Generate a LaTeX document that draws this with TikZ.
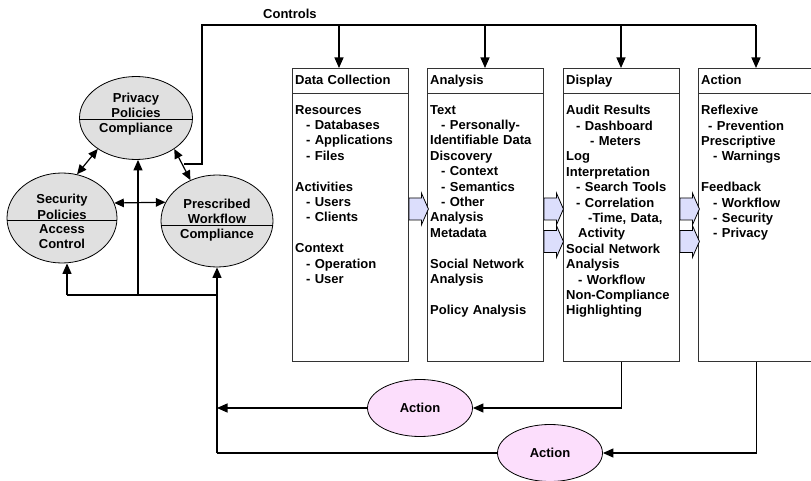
\documentclass[tikz,border=0pt]{standalone}
\usepackage{fontspec}
\setmainfont{Liberation Sans}
\usetikzlibrary{shapes.geometric,arrows.meta}
\definecolor{polgray}{RGB}{224,224,224}
\definecolor{actpink}{RGB}{252,222,252}
\definecolor{blkblue}{RGB}{220,222,252}
\newcommand{\indt}[1]{\hspace*{#1pt}}

\begin{document}
\begin{tikzpicture}[x=1pt,y=-1pt,
    font=\bfseries\fontsize{13}{15.4}\selectfont,
    col/.style={draw=black!80, line width=0.9pt, minimum width=116pt, minimum height=293pt, anchor=north west, inner sep=0pt},
    headtxt/.style={anchor=north west, text width=110pt, inner xsep=3pt, inner ysep=6.5pt, text height=9.5pt, text depth=2.7pt, align=left},
    bodytxt/.style={anchor=north west, text width=110pt, inner xsep=3pt, inner ysep=12pt, align=left},
    pol/.style={ellipse, draw, fill=polgray, line width=0.8pt, inner sep=0pt},
    act/.style={ellipse, draw, fill=actpink, line width=0.8pt, minimum width=105pt, minimum height=57pt},
    blk/.style={draw, fill=blkblue, line width=0.8pt, line join=miter},
    arr/.style={-{Triangle[length=10.5pt,width=9pt]}, line width=1.2pt},
    dbl/.style={{Triangle[length=9.5pt,width=8.5pt]}-{Triangle[length=9.5pt,width=8.5pt]}, line width=1.2pt}]
    \useasboundingbox (0,0) rectangle (811,481);

    % columns
    \node[col] (dc) at (292,68) {};
    \node[col] (ana) at (427,68) {};
    \node[col] (disp) at (563,68) {};
    \node[col] (act) at (698,68) {};
    \foreach \c in {dc,ana,disp,act}
        \draw[draw=black!80, line width=0.9pt] ([yshift=-25pt]\c.north west) -- ([yshift=-25pt]\c.north east);

    \node[headtxt] at (dc.north west) {Data Collection};
    \node[headtxt] at (ana.north west) {Analysis};
    \node[headtxt] at (disp.north west) {Display};
    \node[headtxt] at (act.north west) {Action};

    \node[bodytxt] at ([yshift=-25pt]dc.north west) {Resources\\
        \indt{11}- Databases\\
        \indt{11}- Applications\\
        \indt{11}- Files\\[15.4pt]
        Activities\\
        \indt{11}- Users\\
        \indt{11}- Clients\\[15.4pt]
        Context\\
        \indt{11}- Operation\\
        \indt{11}- User};
    \node[bodytxt] at ([yshift=-25pt]ana.north west) {Text\\
        \indt{11}- Personally-\\
        Identifiable Data\\
        Discovery\\
        \indt{11}- Context\\
        \indt{11}- Semantics\\
        \indt{11}- Other\\
        Analysis\\
        Metadata\\[15.4pt]
        Social Network\\
        Analysis\\[15.4pt]
        Policy Analysis};
    \node[bodytxt] at ([yshift=-25pt]disp.north west) {Audit Results\\
        \indt{10}- Dashboard\\
        \indt{24}- Meters\\
        Log\\
        Interpretation\\
        \indt{10}- Search Tools\\
        \indt{10}- Correlation\\
        \indt{22}-Time, Data,\\
        \indt{12}Activity\\
        Social Network\\
        Analysis\\
        \indt{12}- Workflow\\
        Non-Compliance\\
        Highlighting};
    \node[bodytxt] at ([yshift=-25pt]act.north west) {Reflexive\\
        \indt{7}- Prevention\\
        Prescriptive\\
        \indt{12}- Warnings\\[15.4pt]
        Feedback\\
        \indt{12}- Workflow\\
        \indt{12}- Security\\
        \indt{12}- Privacy};

    % block arrows
    \coordinate (b1) at (dc.east |- 0,209);
    \coordinate (b2) at (ana.east |- 0,209);
    \coordinate (b3) at (ana.east |- 0,241.5);
    \coordinate (b4) at (disp.east |- 0,209);
    \coordinate (b5) at (disp.east |- 0,241.5);
    \foreach \b in {b1,b2,b3,b4,b5}
        \draw[blk] (\b) ++(0,-11) -- ++(12.5,0) -- ++(0,-5) -- ++(7,16) -- ++(-7,16) -- ++(0,-5) -- ++(-12.5,0) -- cycle;

    % policies
    \node[pol, minimum width=113pt, minimum height=83pt] (priv) at (136,118) {};
    \node[pol, minimum width=110pt, minimum height=90pt] (sec) at (62,218) {};
    \node[pol, minimum width=112pt, minimum height=92pt] (work) at (217,221) {};
    \draw[line width=0.8pt] (priv.181) -- (priv.-1)
        node[midway, above, inner sep=1pt, align=center] {Privacy\\Policies}
        node[midway, below, inner sep=3.5pt] {Compliance};
    \draw[line width=0.8pt] (sec.183) -- (sec.-3)
        node[midway, above, inner sep=1pt, align=center] {Security\\Policies}
        node[midway, below, inner sep=3pt, align=center] {Access\\Control};
    \draw[line width=0.8pt] (work.184) -- (work.-4)
        node[midway, above, inner sep=1pt, align=center] {Prescribed\\Workflow}
        node[midway, below, inner sep=3.5pt] {Compliance};
    \draw[dbl] (priv.219) -- (sec.71);
    \draw[dbl] (priv.321) -- (work.123);
    \draw[dbl] (sec.16) -- (work.160);

    % controls
    \coordinate (ctl) at (184,164);
    \coordinate (top) at (202,25);
    \draw[line width=1.2pt] (ctl) -| (top) -- (top -| act.north);
    \node[anchor=base west, inner sep=0pt] (ctltxt) at (263,18.5) {Controls};
    \foreach \x/\c in {339/dc, 485/ana, 621/disp, 756/act}
        \draw[arr] (\x,25) -- (\x,0 |- \c.north);

    % feedback
    \coordinate (jn) at (217,295);
    \coordinate (fb) at (217,453);
    \draw[line width=1.2pt] (67,295) -- (jn);
    \draw[arr] (67,295) -- (67,0 |- sec.south);
    \draw[arr] (138,295) -- (138,0 |- priv.south);
    \draw[arr] (fb) -- (work.south);
    \node[act] (act1) at (420,408) {Action};
    \node[act] (act2) at (550,453) {Action};
    \draw[arr] (disp.south) |- (act1.east);
    \draw[arr] (act1.west) -- (act1.west -| fb);
    \draw[arr] (act.south) |- (act2.east);
    \draw[line width=1.2pt] (act2.west) -- (fb);
\end{tikzpicture}
\end{document}
